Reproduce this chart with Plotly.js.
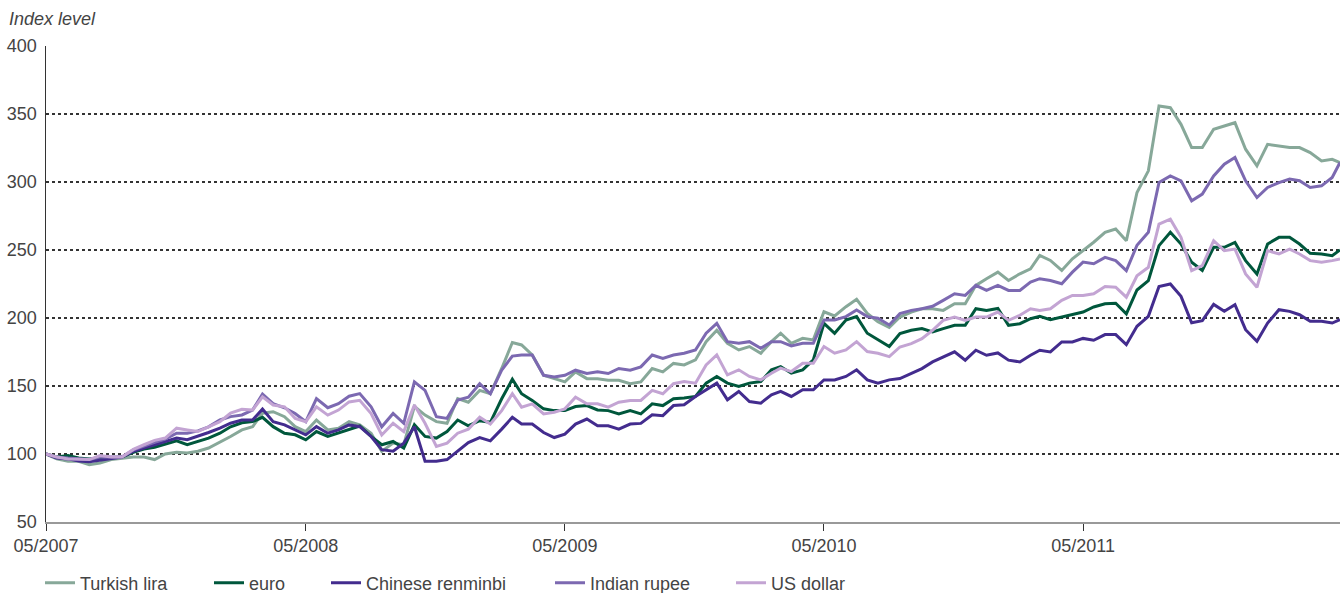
<!DOCTYPE html>
<html>
<head>
<meta charset="utf-8">
<script src="https://cdn.plot.ly/plotly-3.0.1.min.js"></script>
<style>html,body{margin:0;padding:0;background:#fff;}#chart{width:1340px;height:593px;}</style>
</head>
<body>
<div id="chart"></div>
<script>
// Semi-monthly observation dates
const dates = [
 '2007-05-01','2007-05-16','2007-06-01','2007-06-16','2007-07-01','2007-07-16','2007-08-01','2007-08-16','2007-09-01','2007-09-16','2007-10-01','2007-10-16','2007-11-01','2007-11-16','2007-12-01','2007-12-16',
 '2008-01-01','2008-01-16','2008-02-01','2008-02-16','2008-03-01','2008-03-16','2008-04-01','2008-04-16','2008-05-01','2008-05-16','2008-06-01','2008-06-16','2008-07-01','2008-07-16','2008-08-01','2008-08-16','2008-09-01','2008-09-16','2008-10-01','2008-10-16','2008-11-01','2008-11-16','2008-12-01','2008-12-16',
 '2009-01-01','2009-01-16','2009-02-01','2009-02-16','2009-03-01','2009-03-16','2009-04-01','2009-04-16','2009-05-01','2009-05-16','2009-06-01','2009-06-16','2009-07-01','2009-07-16','2009-08-01','2009-08-16','2009-09-01','2009-09-16','2009-10-01','2009-10-16','2009-11-01','2009-11-16','2009-12-01','2009-12-16',
 '2010-01-01','2010-01-16','2010-02-01','2010-02-16','2010-03-01','2010-03-16','2010-04-01','2010-04-16','2010-05-01','2010-05-16','2010-06-01','2010-06-16','2010-07-01','2010-07-16','2010-08-01','2010-08-16','2010-09-01','2010-09-16','2010-10-01','2010-10-16','2010-11-01','2010-11-16','2010-12-01','2010-12-16',
 '2011-01-01','2011-01-16','2011-02-01','2011-02-16','2011-03-01','2011-03-16','2011-04-01','2011-04-16','2011-05-01','2011-05-16','2011-06-01','2011-06-16','2011-07-01','2011-07-16','2011-08-01','2011-08-16','2011-09-01','2011-09-16','2011-10-01','2011-10-16','2011-11-01','2011-11-16','2011-12-01','2011-12-16',
 '2012-01-01','2012-01-16','2012-02-01','2012-02-16','2012-03-01','2012-03-16','2012-04-01','2012-04-16','2012-04-27'
];

const turkishLira = [
 100,96.4,94.7,94.7,92.2,93.4,95.9,97,97.8,97.8,95.9,100,101.2,100.7,102,104.4,108.5,112.9,117.7,120,130,
 131.1,127.4,120.1,116.5,125,117.7,118.9,123.8,121.4,115.3,101.9,108,106.8,135,128.6,123.8,122.6,140.8,
 138.1,146.8,144.3,162.9,182,180.2,172.8,157.9,155.4,153,160.4,155.4,155.4,154.2,154.2,151.7,153,162.9,160.4,166.6,
 165.5,169.2,182.6,191,181.4,176.5,179,174.1,182.6,188.8,181.4,185.1,183.9,204.6,201.5,208.3,213.7,203.4,197.3,193,
 200.7,204.4,206.8,206.8,205.6,210.5,210.5,224,228.9,233.7,227.6,232.5,236.2,246,242.3,235,243.5,249.6,255.7,
 263,265.4,256.8,292.3,308.2,355.9,354.6,342.4,325.3,325.3,338.8,341.2,343.6,324.1,311.9,327.7,326.5,325.3,325.3,321.6,315.5,316.7,314.3
];
const euro = [
 100,97.8,98.8,97,96.4,97,97.5,97.8,101.2,103.6,105,107.5,109.7,106.8,109.2,111.7,115.3,120,123,123.8,127,
 120.1,115.3,114.1,110.4,116.5,112.9,115.3,118.2,120.6,112.9,106.8,109.2,104.4,121.5,112.9,111.7,116.5,125,
 120.8,124.5,123.3,140.6,155,144.3,139.4,133.2,131.9,131.9,134.9,135.6,132.4,131.9,129.5,131.9,129.5,136.9,135.6,140.6,
 141.1,142.3,152.1,157,152.1,149.6,152.1,153.3,161.9,164.3,159.4,161.9,169.2,196.1,188.8,198.5,201,188.8,183.9,179,
 188.5,191,192.2,189.7,192.2,194.6,194.6,206.8,205.6,207,194.6,195.8,199.5,201.2,198.8,200.7,202.7,204.4,208.1,
 210.4,210.9,203.1,220.6,227.5,253.2,263,254.4,241,235,252,252,255.6,242.2,232.4,254.4,259.3,259.3,254.4,247.6,247.1,245.8,250
];
const chineseRenminbi = [
 100,97,96.4,94.9,94.4,95.4,97,97.8,102,104.4,106.8,109,111.7,110.5,112.9,115.8,119,122.6,125,125,133,
 123.8,121.4,117.7,114.1,120.1,115.3,117.7,121.4,120.1,112.9,103.2,102,108,120,94.7,94.7,95.9,101.9,
 108.4,112.1,109.7,118.3,127,122,122,115.8,112.1,114.6,122,125.7,120.8,120.8,118.3,122,122.5,128.9,128.2,135.6,
 136.2,142.3,147.2,152.1,139.9,146,138.6,137.4,143.5,146,142.3,147.2,147.2,154.5,154.5,157,161.9,154.5,152.1,154.5,
 155.5,159.2,162.8,167.7,171.4,175.1,169,176.3,172.6,174.3,169,167.7,172.6,176.3,175.1,182.4,182.4,185,183.6,
 187.8,187.8,180.4,193.9,201.2,223.2,225,215.9,196.5,198,210,204.9,209.8,191.4,182.9,196.3,206.1,204.9,202.4,197.6,197.6,196.3,198.8
];
const indianRupee = [
 100,97.8,97,96.4,95.9,97.8,97.8,97.8,103,106,108.5,111,115.3,115.3,117,120,125,127.5,128.7,132.3,144,
 137,134,129.8,123.8,140.8,134,137,142.5,144.4,134.7,120,129.8,122.6,153,146.8,127.4,126.2,139.6,
 141.8,151.7,144.3,161.6,172,172.8,172.8,157.9,156.7,157.9,161.6,159.2,160.4,159.2,162.9,161.6,164.1,172.8,170.3,172.8,
 174.1,176.5,188.8,196.1,182.6,181.4,182.6,177.8,182.6,182.6,179.5,181.4,181.4,198.5,198.5,201,205.9,201,199.8,194.9,
 203.2,205.6,206.8,208.6,213,217.8,216.6,224,220.3,224,220.3,220.3,226.4,228.9,227.6,225.2,233.7,241.1,239.9,
 244.6,242.2,234.8,253.5,263,299.6,304.5,300.9,286.2,291.1,304.5,313.1,318,300.9,288.6,296,299.6,302.1,300.9,296,297.2,303.3,314.3
];
const usDollar = [
 100,97.8,96.4,96.4,95.9,98.8,97.8,97.8,103.4,106.8,110,111.7,119,117.7,116.5,120,123.8,130,132.8,132.3,142,
 136,134.7,126.2,123.8,134.7,128.6,132.3,138.3,139.5,129.8,114,122.6,116.5,136,122.6,105.6,108,115.3,
 118.3,127,122,131.9,144.3,134.4,136.9,129.5,130.7,133.2,141.8,136.9,136.9,134.4,138.1,139.4,139.4,146.8,144.3,151.7,
 153.3,152.1,165.5,172.9,158.2,161.9,157,154.5,159.4,163.1,160.6,166.7,166.7,179,174.1,176.5,182.6,175.3,174.1,171.6,
 178.7,181.2,184.8,191,198.3,200.7,198.3,200.7,200.7,204.4,198.3,202,206.8,205.6,206.8,213,216.6,216.6,217.8,
 223.1,222.6,215.3,231,237.3,269.1,272.7,259.3,234.8,238.5,256.8,249.5,250.7,232.4,222.6,249.5,247.1,250.7,247.1,242.2,241,242.2,243.4
];

const seriesNames = ['Turkish lira','euro','Chinese renminbi','Indian rupee','US dollar'];
const seriesValues = [turkishLira, euro, chineseRenminbi, indianRupee, usDollar];
const seriesColors = ['#87a899','#00573c','#432c8e','#7c69b1','#c3a4d3'];
const legendX = [45, 214, 331, 555, 736];
const yTicks = [50,100,150,200,250,300,350,400];

const FONT = '"Liberation Sans", Arial, sans-serif';
const traces = seriesNames.map((n, i) => ({
  type: 'scatter', mode: 'lines', name: n, x: dates, y: seriesValues[i],
  line: {color: seriesColors[i], width: 3},
  legend: i === 0 ? 'legend' : 'legend' + (i + 1),
  hoverinfo: 'skip'
}));

const layout = {
  width: 1340, height: 593,
  margin: {l: 46, r: 0, t: 46, b: 71},
  paper_bgcolor: '#fff', plot_bgcolor: '#fff',
  font: {family: FONT, size: 18, color: '#444'},
  xaxis: {
    type: 'date', range: ['2007-05-01', '2012-04-27'],
    tick0: '2007-05-01', dtick: 'M12', tickformat: '%m/%Y',
    ticks: 'outside', ticklen: 7, tickwidth: 1, tickcolor: '#333',
    showline: true, linecolor: '#999', linewidth: 1.5,
    showgrid: false, zeroline: false,
    tickfont: {family: FONT, size: 18, color: '#444'}
  },
  yaxis: {
    range: [50, 400], tickvals: yTicks, ticktext: yTicks.map(String),
    showline: true, linecolor: '#333', linewidth: 1.5,
    showgrid: true, gridcolor: '#333', griddash: 'dot', gridwidth: 1.3,
    zeroline: false, ticks: '', ticklabelstandoff: 4,
    tickfont: {family: FONT, size: 18, color: '#444'}
  },
  annotations: [{
    xref: 'paper', yref: 'paper', x: 0, y: 1, xanchor: 'left', yanchor: 'middle',
    xshift: -39, yshift: 27, showarrow: false, text: '<i>Index level</i>',
    font: {family: FONT, size: 18, color: '#444'}
  }],
  showlegend: true
};
seriesNames.forEach((n, i) => {
  const key = i === 0 ? 'legend' : 'legend' + (i + 1);
  layout[key] = {
    xref: 'container', yref: 'container',
    x: (legendX[i] - 5) / 1340, y: 10 / 593, xanchor: 'left', yanchor: 'middle',
    orientation: 'h', bgcolor: 'rgba(0,0,0,0)', borderwidth: 0,
    font: {family: FONT, size: 18, color: '#444'}
  };
});

Plotly.newPlot('chart', traces, layout, {staticPlot: true, displayModeBar: false});
</script>
</body>
</html>
